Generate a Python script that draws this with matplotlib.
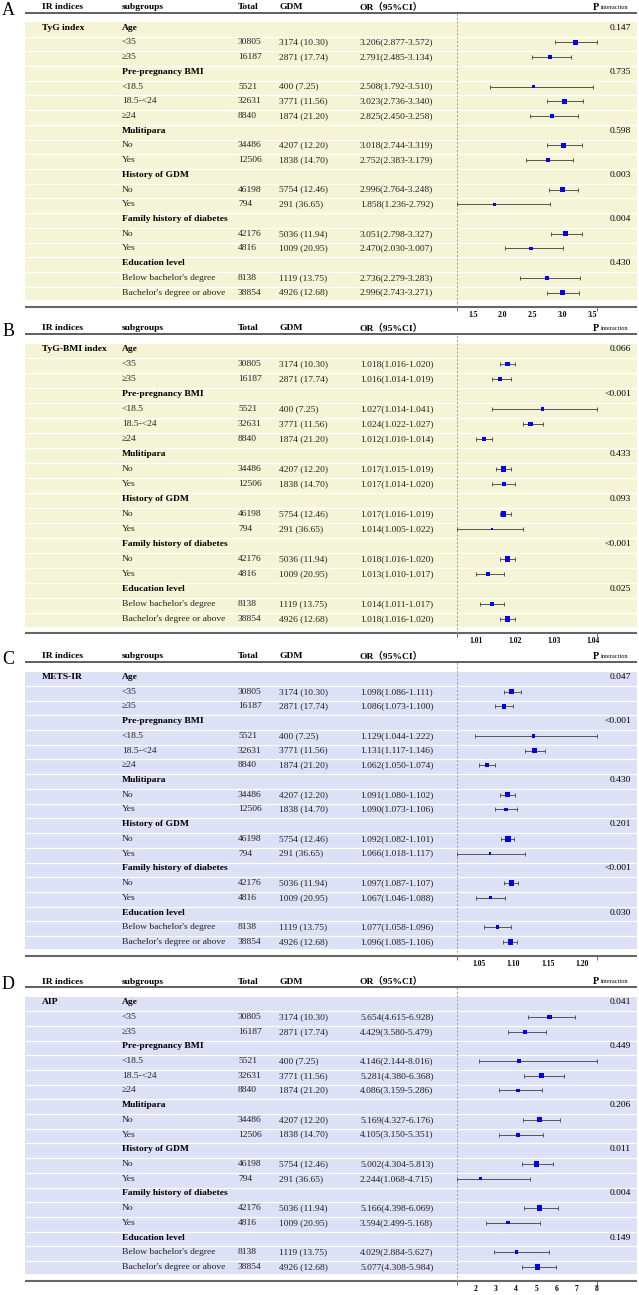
import numpy as np
import matplotlib
matplotlib.use("Agg")
from matplotlib import pyplot as plt
from matplotlib.patches import Rectangle

plt.rcParams['font.family'] = ['Liberation Serif', 'DejaVu Serif']

# shared table columns
subgroups = ["Age", "<35", "\u226535", "Pre-pregnancy BMI", "<18.5", "18.5-<24", "\u226524",
             "Mulitipara", "No", "Yes", "History of GDM", "No", "Yes",
             "Family history of diabetes", "No", "Yes", "Education level",
             "Below bachelor's degree", "Bachelor's degree or above"]
is_header = [True, False, False, True, False, False, False, True, False, False,
             True, False, False, True, False, False, True, False, False]
totals = [30805, 16187, 5521, 32631, 8840, 34486, 12506, 46198, 794, 42176, 4816, 8138, 38854]
gdm = ["3174 (10.30)", "2871 (17.74)", "400 (7.25)", "3771 (11.56)", "1874 (21.20)",
       "4207 (12.20)", "1838 (14.70)", "5754 (12.46)", "291 (36.65)", "5036 (11.94)",
       "1009 (20.95)", "1119 (13.75)", "4926 (12.68)"]

# panel A: TyG index
tyg_or = [3.206, 2.791, 2.508, 3.023, 2.825, 3.018, 2.752, 2.996, 1.858, 3.051, 2.470, 2.736, 2.996]
tyg_lo = [2.877, 2.485, 1.792, 2.736, 2.450, 2.744, 2.383, 2.764, 1.236, 2.798, 2.030, 2.279, 2.743]
tyg_hi = [3.572, 3.134, 3.510, 3.340, 3.258, 3.319, 3.179, 3.248, 2.792, 3.327, 3.007, 3.283, 3.271]
tyg_p = ["0.147", "0.735", "0.598", "0.003", "0.004", "0.430"]

# panel B: TyG-BMI index
tygbmi_or = [1.018, 1.016, 1.027, 1.024, 1.012, 1.017, 1.017, 1.017, 1.014, 1.018, 1.013, 1.014, 1.018]
tygbmi_lo = [1.016, 1.014, 1.014, 1.022, 1.010, 1.015, 1.014, 1.016, 1.005, 1.016, 1.010, 1.011, 1.016]
tygbmi_hi = [1.020, 1.019, 1.041, 1.027, 1.014, 1.019, 1.020, 1.019, 1.022, 1.020, 1.017, 1.017, 1.020]
tygbmi_p = ["0.066", "<0.001", "0.433", "0.093", "<0.001", "0.025"]

# panel C: METS-IR
mets_or = [1.098, 1.086, 1.129, 1.131, 1.062, 1.091, 1.090, 1.092, 1.066, 1.097, 1.067, 1.077, 1.096]
mets_lo = [1.086, 1.073, 1.044, 1.117, 1.050, 1.080, 1.073, 1.082, 1.018, 1.087, 1.046, 1.058, 1.085]
mets_hi = [1.111, 1.100, 1.222, 1.146, 1.074, 1.102, 1.106, 1.101, 1.117, 1.107, 1.088, 1.096, 1.106]
mets_p = ["0.047", "<0.001", "0.430", "0.201", "<0.001", "0.030"]

# panel D: AIP
aip_or = [5.654, 4.429, 4.146, 5.281, 4.086, 5.169, 4.105, 5.002, 2.244, 5.166, 3.594, 4.029, 5.077]
aip_lo = [4.615, 3.580, 2.144, 4.380, 3.159, 4.327, 3.150, 4.304, 1.068, 4.398, 2.499, 2.884, 4.308]
aip_hi = [6.928, 5.479, 8.016, 6.368, 5.286, 6.176, 5.351, 5.813, 4.715, 6.069, 5.168, 5.627, 5.984]
aip_p = ["0.041", "0.449", "0.206", "0.011", "0.004", "0.149"]

panels = [
    dict(letter="A", name="TyG index", orv=tyg_or, lo=tyg_lo, hi=tyg_hi, p=tyg_p,
         ticks=[1.5, 2.0, 2.5, 3.0, 3.5], fmt="{:.1f}", row0=27.7, step=14.72, color="#f5f5d6"),
    dict(letter="B", name="TyG-BMI index", orv=tygbmi_or, lo=tygbmi_lo, hi=tygbmi_hi, p=tygbmi_p,
         ticks=[1.01, 1.02, 1.03, 1.04], fmt="{:.2f}", row0=349.0, step=15.0, color="#f5f5d6"),
    dict(letter="C", name="METS-IR", orv=mets_or, lo=mets_lo, hi=mets_hi, p=mets_p,
         ticks=[1.05, 1.10, 1.15, 1.20], fmt="{:.2f}", row0=677.0, step=14.72, color="#dce1f6"),
    dict(letter="D", name="AIP", orv=aip_or, lo=aip_lo, hi=aip_hi, p=aip_p,
         ticks=[2, 3, 4, 5, 6, 7, 8], fmt="{:d}", row0=1002.3, step=14.7, color="#dce1f6"),
]

W, H = 639, 1295
fig = plt.figure(figsize=(W / 100, H / 100), dpi=100)
bg = fig.add_axes([0, 0, 1, 1])
bg.set_xlim(0, W)
bg.set_ylim(H, 0)
bg.axis('off')

FS = 6.8
XL, XR = 25, 637
FX0, FX1 = 457, 597

for pn in panels:
    rows = pn["row0"] + pn["step"] * np.arange(len(subgroups))
    hdr_y = pn["row0"] - 20.5
    line_y = pn["row0"] - 15
    axis_y = rows[-1] + 14

    # background band + white separators
    top = pn["row0"] - 5.5
    bot = rows[-1] + 7.5
    bg.add_patch(Rectangle((XL, top), XR - XL, bot - top, color=pn["color"], lw=0, zorder=0))
    mids = (rows[:-1] + rows[1:]) / 2 + 1.5
    bg.hlines(mids, XL, XR, color="white", lw=0.9, zorder=1)

    # header
    bg.text(8.5, hdr_y + 3, pn["letter"], fontsize=13, ha="center", va="center")
    for x, lab in [(42, "IR indices"), (122, "subgroups"), (238, "Total"), (279, "GDM"), (360, "OR\uff0895%CI\uff09")]:
        bg.text(x, hdr_y, lab, fontsize=FS, fontweight="bold", ha="left", va="center",
                family=['Liberation Serif', 'Noto Sans CJK SC', 'DejaVu Serif'])
    bg.text(599, hdr_y, "P", fontsize=7.2, fontweight="bold", ha="right", va="center")
    bg.text(601, hdr_y, "interaction", fontsize=4.6, ha="left", va="center")
    bg.hlines(line_y, XL, XR, color="#333333", lw=1.1)
    bg.hlines(axis_y, XL, XR, color="#666666", lw=1.5)

    bg.text(42, rows[0], pn["name"], fontsize=FS, fontweight="bold", ha="left", va="center")

    k = 0
    h = 0
    data_rows = []
    for i, (sg, hd) in enumerate(zip(subgroups, is_header)):
        if hd:
            bg.text(122, rows[i], sg, fontsize=FS, fontweight="bold", ha="left", va="center")
            bg.text(631, rows[i], pn["p"][h], fontsize=FS, ha="right", va="center")
            h += 1
        else:
            bg.text(122, rows[i], sg, fontsize=FS, ha="left", va="center", color="#222222")
            bg.text(238, rows[i], str(totals[k]), fontsize=FS, ha="left", va="center", color="#222222")
            bg.text(279, rows[i], gdm[k], fontsize=FS, ha="left", va="center", color="#222222")
            bg.text(360, rows[i], "{:.3f}({:.3f}-{:.3f})".format(pn["orv"][k], pn["lo"][k], pn["hi"][k]),
                    fontsize=FS, ha="left", va="center", color="#222222")
            data_rows.append(rows[i])
            k += 1

    # forest plot
    orv = np.array(pn["orv"])
    lo = np.array(pn["lo"])
    hi = np.array(pn["hi"])
    ys = np.array(data_rows)
    fax = fig.add_axes([FX0 / W, 1 - axis_y / H, (FX1 - FX0) / W, (axis_y - line_y) / H])
    fax.patch.set_alpha(0)
    fax.set_ylim(axis_y, line_y)
    fax.set_xlim(lo.min(), hi.max())
    for s in fax.spines.values():
        s.set_visible(False)
    fax.axvline(lo.min(), color="#999999", lw=0.7, ls=(0, (2, 2)), clip_on=False)
    fax.errorbar(orv, ys, xerr=[orv - lo, hi - orv], fmt="none", ecolor="#555555",
                 elinewidth=0.7, capsize=1.6, capthick=0.7)
    n = np.array(totals)
    side_px = 2.2 + 3.3 * np.sqrt(n / n.max())
    fax.scatter(orv, ys, s=(side_px * 0.72) ** 2, marker="s", color="#0000ff", lw=0, zorder=3)
    fax.set_yticks([])
    fax.set_xticks(pn["ticks"])
    fax.set_xticklabels([pn["fmt"].format(t) for t in pn["ticks"]], fontsize=5.5, fontweight="bold")
    fax.tick_params(axis="x", which="major", length=0, pad=3)
    fax.set_xticks([lo.min(), hi.max()], minor=True)
    fax.tick_params(axis="x", which="minor", length=3, width=0.6, color="#555555", direction="out")

fig.savefig("out.png", dpi=100)
